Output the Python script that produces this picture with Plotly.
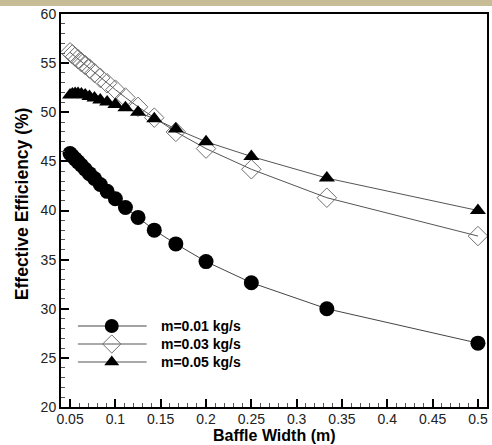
import plotly.graph_objects as go

baffle_width = [0.05, 0.0526, 0.0556, 0.0588, 0.0625, 0.0667, 0.0714, 0.0769, 0.0833,
                0.0909, 0.1, 0.1111, 0.125, 0.1429, 0.1667, 0.2, 0.25, 0.3333, 0.5]
eff_m001 = [45.8, 45.55, 45.25, 44.95, 44.6, 44.2, 43.75, 43.25, 42.65,
            41.95, 41.2, 40.3, 39.3, 38.0, 36.6, 34.8, 32.65, 30.0, 26.5]
eff_m003 = [56.1, 55.9, 55.65, 55.4, 55.1, 54.8, 54.45, 54.0, 53.5,
            52.95, 52.3, 51.5, 50.55, 49.45, 48.0, 46.3, 44.2, 41.3, 37.4]
eff_m005 = [51.75, 51.85, 51.9, 51.9, 51.85, 51.75, 51.6, 51.45, 51.25,
            51.05, 50.8, 50.45, 50.0, 49.35, 48.3, 47.0, 45.5, 43.3, 40.0]
series_names = ["m=0.01 kg/s", "m=0.03 kg/s", "m=0.05 kg/s"]
x_tickvals = [0.05, 0.1, 0.15, 0.2, 0.25, 0.3, 0.35, 0.4, 0.45, 0.5]
x_ticktext = ["0.05", "0.1", "0.15", "0.2", "0.25", "0.3", "0.35", "0.4", "0.45", "0.5"]
y_tickvals = [20, 25, 30, 35, 40, 45, 50, 55, 60]
x_title = "Baffle Width (m)"
y_title = "Effective Efficiency (%)"

series_y = [eff_m001, eff_m003, eff_m005]
line_colors = ["#444444", "#555555", "#555555"]
markers = [
    dict(symbol="circle", size=15, color="black"),
    dict(symbol="diamond-open", size=15, color="#707070", line=dict(width=1, color="#707070")),
    dict(symbol="triangle-up", size=14, color="black"),
]
legend_markers = [
    dict(symbol="circle", size=14, color="black"),
    dict(symbol="diamond-open", size=14, color="#707070", line=dict(width=1, color="#707070")),
    dict(symbol="triangle-up", size=13, color="black"),
]

# layout in pixel positions of the 492x445 page (plot area: x 61..489, y 14..407)
PLOT_L, PLOT_R, PLOT_T, PLOT_B = 61, 489, 14, 407
def px_to_paper_x(px):
    return (px - PLOT_L) / (PLOT_R - PLOT_L)
def px_to_paper_y(py):
    return (PLOT_B - py) / (PLOT_B - PLOT_T)
legend_rows_px = [326, 344, 362]
legend_line_px = (78, 147)
legend_marker_px = 112
legend_text_px = 159

fig = go.Figure()
for name, ys, lc, mk in zip(series_names, series_y, line_colors, markers):
    fig.add_trace(go.Scatter(x=baffle_width, y=ys, name=name, mode="lines+markers",
                             line=dict(color=lc, width=1), marker=mk, showlegend=False))

shapes = [dict(type="rect", xref="paper", yref="paper", x0=-0.2, x1=1.05,
               y0=px_to_paper_y(6), y1=px_to_paper_y(-20),
               fillcolor="#C6BC96", line=dict(width=0), layer="above")]
annotations = []
for name, lc, mk, ry in zip(series_names, line_colors, legend_markers, legend_rows_px):
    shapes.append(dict(type="line", xref="paper", yref="paper",
                       x0=px_to_paper_x(legend_line_px[0]), x1=px_to_paper_x(legend_line_px[1]),
                       y0=px_to_paper_y(ry), y1=px_to_paper_y(ry),
                       line=dict(color=lc, width=1), layer="below"))
    fig.add_trace(go.Scatter(x=[px_to_paper_x(legend_marker_px)], y=[px_to_paper_y(ry)],
                             xaxis="x2", yaxis="y2", mode="markers", marker=mk,
                             showlegend=False, hoverinfo="skip"))
    annotations.append(dict(xref="paper", yref="paper", x=px_to_paper_x(legend_text_px),
                            y=px_to_paper_y(ry), xanchor="left", yanchor="middle",
                            text="<b>" + name + "</b>", showarrow=False,
                            font=dict(size=14, color="black")))
annotations.append(dict(xref="paper", yref="paper", x=px_to_paper_x(22), y=px_to_paper_y(204),
                        xanchor="center", yanchor="middle", textangle=-90, showarrow=False,
                        text="<b>" + y_title + "</b>", font=dict(size=17.5, color="black")))
annotations.append(dict(xref="paper", yref="paper", x=px_to_paper_x(276), y=px_to_paper_y(445),
                        xanchor="center", yanchor="bottom", showarrow=False, borderpad=0,
                        text="<b>" + x_title + "</b>", font=dict(size=16, color="black")))

font_family = "Liberation Sans, Arial, sans-serif"
fig.update_layout(
    width=492, height=445,
    margin=dict(l=PLOT_L, r=492 - PLOT_R, t=PLOT_T, b=445 - PLOT_B),
    paper_bgcolor="white", plot_bgcolor="white",
    font=dict(family=font_family, size=14, color="#222222"),
    showlegend=False,
    xaxis=dict(range=[0.04, 0.51], tickvals=x_tickvals, ticktext=x_ticktext,
               showgrid=False, zeroline=False, showline=True, linecolor="black", linewidth=2,
               mirror=True, ticks="inside", ticklen=8, tickwidth=2, tickcolor="black",
               ticklabelstandoff=-2,
               minor=dict(dtick=0.01, tick0=0.0, ticks="inside", ticklen=4, tickwidth=1,
                          tickcolor="#555555", showgrid=False)),
    yaxis=dict(range=[20, 60], tickvals=y_tickvals,
               showgrid=False, zeroline=False, showline=True, linecolor="black", linewidth=2,
               mirror=True, ticks="inside", ticklen=8, tickwidth=2, tickcolor="black",
               minor=dict(dtick=1, tick0=0, ticks="inside", ticklen=4, tickwidth=1,
                          tickcolor="#555555", showgrid=False)),
    xaxis2=dict(overlaying="x", range=[0, 1], visible=False, fixedrange=True),
    yaxis2=dict(overlaying="y", range=[0, 1], visible=False, fixedrange=True),
    shapes=shapes,
    annotations=annotations,
)

fig.write_html("out.html")
